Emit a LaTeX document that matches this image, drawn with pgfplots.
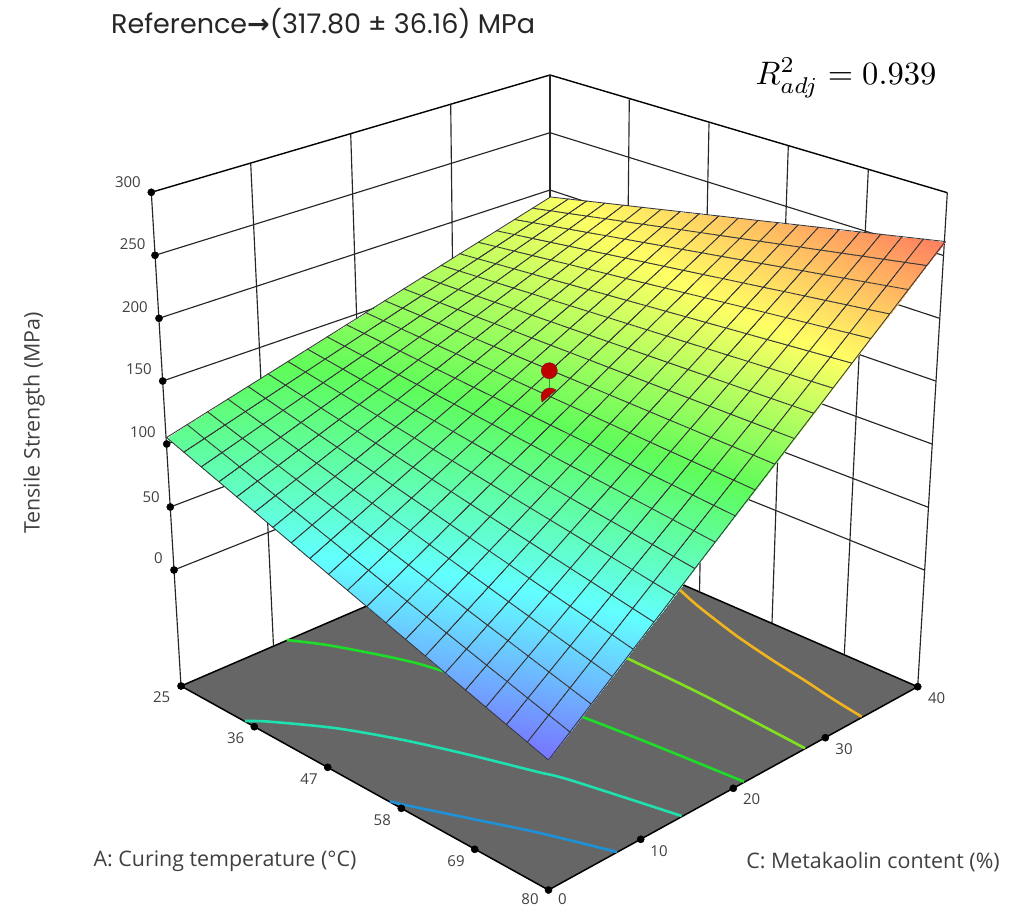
\documentclass[border=0pt]{standalone}
\usepackage{fontspec}
\usepackage{pgfplots}
\usepackage{pgfplotstable}
\pgfplotsset{compat=1.18}
\setmainfont{Open Sans}
\newfontfamily\titlef{Poppins}
\newfontfamily\symf{DejaVu Sans}
\definecolor{txt}{HTML}{404040}
\definecolor{floorc}{HTML}{666666}
\tikzset{
  lab/.style={font=\fontsize{15}{18}\selectfont, text=txt, inner sep=0pt},
  ttl/.style={font=\fontsize{21.4}{25}\selectfont, text=txt, inner sep=0pt},
}
\pgfplotstableread{
A C Z
25 0 108
25 2 112.2
25 4 116.3
25 6 120.5
25 8 124.6
25 10 128.8
25 12 132.9
25 14 137.1
25 16 141.2
25 18 145.4
25 20 149.5
25 22 153.7
25 24 157.8
25 26 162
25 28 166.1
25 30 170.3
25 32 174.4
25 34 178.6
25 36 182.7
25 38 186.9
25 40 191
27.75 0 102.7
27.75 2 107.2
27.75 4 111.8
27.75 6 116.4
27.75 8 121
27.75 10 125.6
27.75 12 130.2
27.75 14 134.8
27.75 16 139.4
27.75 18 144
27.75 20 148.6
27.75 22 153.2
27.75 24 157.8
27.75 26 162.4
27.75 28 167
27.75 30 171.5
27.75 32 176.1
27.75 34 180.7
27.75 36 185.3
27.75 38 189.9
27.75 40 194.5
30.5 0 97.3
30.5 2 102.3
30.5 4 107.4
30.5 6 112.4
30.5 8 117.4
30.5 10 122.5
30.5 12 127.5
30.5 14 132.5
30.5 16 137.6
30.5 18 142.6
30.5 20 147.7
30.5 22 152.7
30.5 24 157.7
30.5 26 162.8
30.5 28 167.8
30.5 30 172.8
30.5 32 177.9
30.5 34 182.9
30.5 36 187.9
30.5 38 193
30.5 40 198
33.25 0 92
33.25 2 97.4
33.25 4 102.9
33.25 6 108.4
33.25 8 113.9
33.25 10 119.3
33.25 12 124.8
33.25 14 130.3
33.25 16 135.8
33.25 18 141.2
33.25 20 146.7
33.25 22 152.2
33.25 24 157.7
33.25 26 163.2
33.25 28 168.6
33.25 30 174.1
33.25 32 179.6
33.25 34 185.1
33.25 36 190.5
33.25 38 196
33.25 40 201.5
36 0 86.6
36 2 92.5
36 4 98.4
36 6 104.4
36 8 110.3
36 10 116.2
36 12 122.1
36 14 128
36 16 134
36 18 139.9
36 20 145.8
36 22 151.7
36 24 157.6
36 26 163.6
36 28 169.5
36 30 175.4
36 32 181.3
36 34 187.2
36 36 193.2
36 38 199.1
36 40 205
38.75 0 81.3
38.75 2 87.6
38.75 4 94
38.75 6 100.3
38.75 8 106.7
38.75 10 113.1
38.75 12 119.4
38.75 14 125.8
38.75 16 132.2
38.75 18 138.5
38.75 20 144.9
38.75 22 151.2
38.75 24 157.6
38.75 26 164
38.75 28 170.3
38.75 30 176.7
38.75 32 183.1
38.75 34 189.4
38.75 36 195.8
38.75 38 202.1
38.75 40 208.5
41.5 0 75.9
41.5 2 82.7
41.5 4 89.5
41.5 6 96.3
41.5 8 103.1
41.5 10 109.9
41.5 12 116.7
41.5 14 123.5
41.5 16 130.3
41.5 18 137.1
41.5 20 144
41.5 22 150.8
41.5 24 157.6
41.5 26 164.4
41.5 28 171.2
41.5 30 178
41.5 32 184.8
41.5 34 191.6
41.5 36 198.4
41.5 38 205.2
41.5 40 212
44.25 0 70.6
44.25 2 77.8
44.25 4 85
44.25 6 92.3
44.25 8 99.5
44.25 10 106.8
44.25 12 114
44.25 14 121.3
44.25 16 128.5
44.25 18 135.8
44.25 20 143
44.25 22 150.3
44.25 24 157.5
44.25 26 164.8
44.25 28 172
44.25 30 179.3
44.25 32 186.5
44.25 34 193.8
44.25 36 201
44.25 38 208.3
44.25 40 215.5
47 0 65.2
47 2 72.9
47 4 80.6
47 6 88.3
47 8 96
47 10 103.7
47 12 111.3
47 14 119
47 16 126.7
47 18 134.4
47 20 142.1
47 22 149.8
47 24 157.5
47 26 165.2
47 28 172.9
47 30 180.6
47 32 188.2
47 34 195.9
47 36 203.6
47 38 211.3
47 40 219
49.75 0 59.9
49.75 2 68
49.75 4 76.1
49.75 6 84.2
49.75 8 92.4
49.75 10 100.5
49.75 12 108.6
49.75 14 116.8
49.75 16 124.9
49.75 18 133
49.75 20 141.2
49.75 22 149.3
49.75 24 157.4
49.75 26 165.6
49.75 28 173.7
49.75 30 181.8
49.75 32 190
49.75 34 198.1
49.75 36 206.2
49.75 38 214.4
49.75 40 222.5
52.5 0 54.5
52.5 2 63.1
52.5 4 71.7
52.5 6 80.2
52.5 8 88.8
52.5 10 97.4
52.5 12 106
52.5 14 114.5
52.5 16 123.1
52.5 18 131.7
52.5 20 140.3
52.5 22 148.8
52.5 24 157.4
52.5 26 166
52.5 28 174.6
52.5 30 183.1
52.5 32 191.7
52.5 34 200.3
52.5 36 208.9
52.5 38 217.4
52.5 40 226
55.25 0 49.2
55.25 2 58.2
55.25 4 67.2
55.25 6 76.2
55.25 8 85.2
55.25 10 94.2
55.25 12 103.3
55.25 14 112.3
55.25 16 121.3
55.25 18 130.3
55.25 20 139.3
55.25 22 148.3
55.25 24 157.4
55.25 26 166.4
55.25 28 175.4
55.25 30 184.4
55.25 32 193.4
55.25 34 202.4
55.25 36 211.5
55.25 38 220.5
55.25 40 229.5
58 0 43.8
58 2 53.3
58 4 62.7
58 6 72.2
58 8 81.6
58 10 91.1
58 12 100.6
58 14 110
58 16 119.5
58 18 128.9
58 20 138.4
58 22 147.9
58 24 157.3
58 26 166.8
58 28 176.2
58 30 185.7
58 32 195.2
58 34 204.6
58 36 214.1
58 38 223.5
58 40 233
60.75 0 38.5
60.75 2 48.4
60.75 4 58.3
60.75 6 68.2
60.75 8 78.1
60.75 10 88
60.75 12 97.9
60.75 14 107.8
60.75 16 117.7
60.75 18 127.6
60.75 20 137.5
60.75 22 147.4
60.75 24 157.3
60.75 26 167.2
60.75 28 177.1
60.75 30 187
60.75 32 196.9
60.75 34 206.8
60.75 36 216.7
60.75 38 226.6
60.75 40 236.5
63.5 0 33.1
63.5 2 43.4
63.5 4 53.8
63.5 6 64.1
63.5 8 74.5
63.5 10 84.8
63.5 12 95.2
63.5 14 105.5
63.5 16 115.9
63.5 18 126.2
63.5 20 136.6
63.5 22 146.9
63.5 24 157.2
63.5 26 167.6
63.5 28 177.9
63.5 30 188.3
63.5 32 198.6
63.5 34 209
63.5 36 219.3
63.5 38 229.7
63.5 40 240
66.25 0 27.8
66.25 2 38.5
66.25 4 49.3
66.25 6 60.1
66.25 8 70.9
66.25 10 81.7
66.25 12 92.5
66.25 14 103.3
66.25 16 114.1
66.25 18 124.8
66.25 20 135.6
66.25 22 146.4
66.25 24 157.2
66.25 26 168
66.25 28 178.8
66.25 30 189.6
66.25 32 200.4
66.25 34 211.2
66.25 36 221.9
66.25 38 232.7
66.25 40 243.5
69 0 22.4
69 2 33.6
69 4 44.9
69 6 56.1
69 8 67.3
69 10 78.6
69 12 89.8
69 14 101
69 16 112.2
69 18 123.5
69 20 134.7
69 22 145.9
69 24 157.2
69 26 168.4
69 28 179.6
69 30 190.9
69 32 202.1
69 34 213.3
69 36 224.5
69 38 235.8
69 40 247
71.75 0 17.1
71.75 2 28.7
71.75 4 40.4
71.75 6 52.1
71.75 8 63.7
71.75 10 75.4
71.75 12 87.1
71.75 14 98.8
71.75 16 110.4
71.75 18 122.1
71.75 20 133.8
71.75 22 145.4
71.75 24 157.1
71.75 26 168.8
71.75 28 180.5
71.75 30 192.1
71.75 32 203.8
71.75 34 215.5
71.75 36 227.1
71.75 38 238.8
71.75 40 250.5
74.5 0 11.7
74.5 2 23.8
74.5 4 35.9
74.5 6 48
74.5 8 60.2
74.5 10 72.3
74.5 12 84.4
74.5 14 96.5
74.5 16 108.6
74.5 18 120.7
74.5 20 132.9
74.5 22 145
74.5 24 157.1
74.5 26 169.2
74.5 28 181.3
74.5 30 193.4
74.5 32 205.5
74.5 34 217.7
74.5 36 229.8
74.5 38 241.9
74.5 40 254
77.25 0 6.4
77.25 2 18.9
77.25 4 31.5
77.25 6 44
77.25 8 56.6
77.25 10 69.1
77.25 12 81.7
77.25 14 94.3
77.25 16 106.8
77.25 18 119.4
77.25 20 132
77.25 22 144.5
77.25 24 157.1
77.25 26 169.6
77.25 28 182.2
77.25 30 194.7
77.25 32 207.3
77.25 34 219.8
77.25 36 232.4
77.25 38 245
77.25 40 257.5
80 0 1
80 2 14
80 4 27
80 6 40
80 8 53
80 10 66
80 12 79
80 14 92
80 16 105
80 18 118
80 20 131
80 22 144
80 24 157
80 26 170
80 28 183
80 30 196
80 32 209
80 34 222
80 36 235
80 38 248
80 40 261
}\surfacedata
\begin{document}
\begin{tikzpicture}
\path[use as bounding box] (0,0) rectangle (1023pt,908pt);
\begin{axis}[
  at={(0,0)}, anchor=south west,
  scale only axis, width=1023pt, height=908pt,
  xmin=0, xmax=1023, ymin=0, ymax=908, y dir=reverse,
  hide axis, clip=false,
  declare function={
    den(\a,\c)=1.01*(1-\a)*(1-\c)+0.91*\a*(1-\c)+1.09*(1-\a)*\c+0.99*\a*\c;
    sx(\a,\c)=(168.2*(1-\a)*(1-\c)+499.1*\a*(1-\c)+600*(1-\a)*\c+935.6*\a*\c)/den(\a,\c);
    sy(\a,\c)=(441.9*(1-\a)*(1-\c)+691.6*\a*(1-\c)+214.7*(1-\a)*\c+239.1*\a*\c)/den(\a,\c);
  },
  colormap={ds}{rgb255=(120,115,255) rgb255=(98,255,255) rgb255=(95,252,90) rgb255=(255,255,100) rgb255=(255,125,95)},
  wall/.style={no markers, line width=1.15pt, color=black!85},
  wallb/.style={no markers, line width=1.4pt, color=black},
  cont/.style={no markers, line width=2.6pt, smooth},
]
% floor
\addplot[fill=floorc, draw=black, line width=1.5pt] coordinates {(181,686) (548.5,890) (917.7,686.7) (550,527)} -- cycle;
% walls: horizontals
\addplot[wallb] coordinates {(151.3,192.3) (550,75) (947.3,192.7)};
\addplot[wall] coordinates {(155,255.3) (550,132.7) (943.5,255.5)};
\addplot[wall] coordinates {(159,318.3) (550,190) (939.5,318.3)};
\addplot[wall] coordinates {(162.7,381) (550,247.5) (935.7,381)};
\addplot[wall] coordinates {(166.7,444) (550,305) (932,444)};
\addplot[wall] coordinates {(170.3,507) (550,362.5) (928.3,507.3)};
\addplot[wall] coordinates {(174,570) (550,420) (924.3,570)};
% walls: verticals
\addplot[wall] coordinates {(151.3,192.3) (181,686)};
\addplot[wall] coordinates {(947.3,192.7) (917.7,686.7)};
\addplot[wall] coordinates {(550,75) (550,527)};
\addplot[wall] coordinates {(250.7,163.3) (273.5,646)};
\addplot[wall] coordinates {(350.7,134) (366,606)};
\addplot[wall] coordinates {(450.7,104.3) (456,567.5)};
\addplot[wall] coordinates {(629.3,99.3) (624.6,559.5)};
\addplot[wall] coordinates {(709,123.3) (699.5,592)};
\addplot[wall] coordinates {(788.3,146) (772,623)};
\addplot[wall] coordinates {(868.3,170) (844.3,654.3)};
% contours on the floor
\addplot[cont, color={rgb,255:red,30;green,145;blue,215}] coordinates {(390,801) (403,804.5) (480,820.5) (540,833) (617,852)};
\addplot[cont, color={rgb,255:red,30;green,225;blue,175}] coordinates {(245,721) (270,721.7) (336.7,728.3) (403.3,740) (470,755) (536.7,771.7) (570,780) (681.7,816)};
\addplot[cont, color={rgb,255:red,30;green,220;blue,40}] coordinates {(286.7,640) (330,645.5) (396.7,658.5) (441.7,670.7) (583.3,717.3) (744,781.7)};
\addplot[cont, color={rgb,255:red,130;green,225;blue,30}] coordinates {(600,645) (627.3,658.3) (706.7,696.7) (805,748.3)};
\addplot[cont, color={rgb,255:red,240;green,180;blue,30}] coordinates {(680,590) (696.7,605) (720,623.3) (740,638.3) (773.3,660.7) (806.7,681.7) (833.3,699.3) (861.7,716.7)};
% surface
\addplot[surf, shader=faceted interp, faceted color=black!78, line width=0.85pt, mesh/cols=21,
   point meta=\thisrow{Z}, point meta min=1, point meta max=261]
   table[x expr={sx((\thisrow{A}-25)/55,\thisrow{C}/40)}, y expr={sy((\thisrow{A}-25)/55,\thisrow{C}/40)}] {\surfacedata};
% design points
\addplot[no markers, fill={rgb,255:red,192;green,0;blue,0}, draw={rgb,255:red,130;green,20;blue,20}, line width=0.5pt] coordinates {(556,390) (552.5,388.3) (548.5,388) (545,389.5) (542.5,392) (541,396) (542,402)} -- cycle;
\addplot[no markers, color=black!35!green!60!gray, line width=1.2pt] coordinates {(549.3,379) (549.3,388)};
\addplot[only marks, mark=*, mark size=8pt, mark options={fill={rgb,255:red,192;green,0;blue,0}, draw={rgb,255:red,130;green,20;blue,20}, line width=0.5pt}] coordinates {(549.3,370.7)};
% tick dots
\addplot[only marks, mark=*, mark size=3.6pt, color=black] coordinates {(151.3,192.3) (155,255.3) (159,318.3) (162.7,381) (166.7,444) (170.3,507) (174,570) (181,686) (254.3,726.7) (327.7,767.3) (401.3,808.3) (474.7,849.3) (548.5,890) (640.7,839.3) (733.3,788.3) (825.3,737.7) (917.7,686.7)};
% tick labels
\node[lab, anchor=east] at (axis cs:141,181.7) {300};
\node[lab, anchor=east] at (axis cs:145.7,244) {250};
\node[lab, anchor=east] at (axis cs:148,306.7) {200};
\node[lab, anchor=east] at (axis cs:152,369) {150};
\node[lab, anchor=east] at (axis cs:156,431.7) {100};
\node[lab, anchor=east] at (axis cs:160,496.7) {50};
\node[lab, anchor=east] at (axis cs:163,558) {0};
\node[lab] at (axis cs:161.7,696.7) {25};
\node[lab] at (axis cs:235.7,738.3) {36};
\node[lab] at (axis cs:309,779.3) {47};
\node[lab] at (axis cs:382.3,820) {58};
\node[lab] at (axis cs:456,860.7) {69};
\node[lab] at (axis cs:530,899.5) {80};
\node[lab] at (axis cs:562.3,899.5) {0};
\node[lab] at (axis cs:659,851) {10};
\node[lab] at (axis cs:751.7,799.3) {20};
\node[lab] at (axis cs:844,749) {30};
\node[lab] at (axis cs:936.7,697.7) {40};
% titles
\node[ttl] at (axis cs:225,861) {A: Curing temperature (°C)};
\node[ttl] at (axis cs:873,862) {C: Metakaolin content (\%)};
\node[ttl, rotate=90] at (axis cs:34,423) {Tensile Strength (MPa)};
\node[inner sep=0pt, anchor=west, text=black!85] at (axis cs:111,23) {\titlef\fontsize{27}{31}\selectfont Reference{\symf\bfseries →}(317.80 ± 36.16) MPa};
\node[inner sep=0pt, scale=3.25] at (axis cs:846,78) {$R^2_{adj}=0.939$};
\end{axis}
\end{tikzpicture}
\end{document}
